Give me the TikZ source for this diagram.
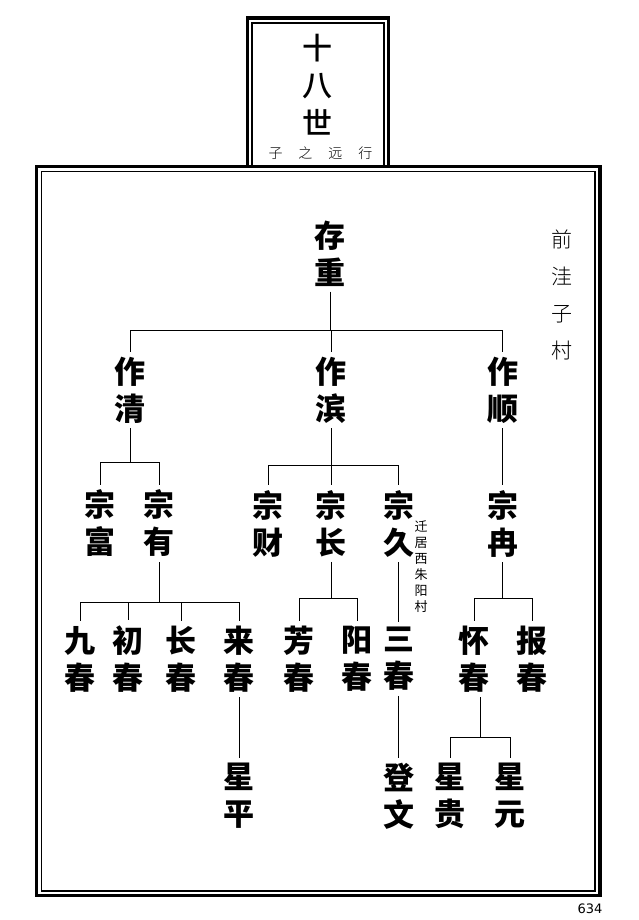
\documentclass[tikz,border=0pt]{standalone}
\usepackage{fontspec}
\newfontfamily\cjk{Noto Sans CJK SC}
\newfontfamily\cjkl{Noto Sans CJK SC}[UprightFont=* Light]
\newfontfamily\cjkm{Noto Sans CJK SC}[UprightFont=* Medium]
\newfontfamily\pagefont{DejaVu Sans}
\begin{document}
\begin{tikzpicture}[x=1pt,y=-1pt,
  nm/.style={font=\cjk\bfseries\fontsize{31}{37}\selectfont, align=center, inner sep=5pt},
  conn/.style={line width=0.9pt},
  thickframe/.style={line width=3.5pt},
  thinframe/.style={line width=1.2pt}]
\path[use as bounding box, fill=white] (0,0) rectangle (638,920);
% frames
\draw[thickframe] (36.7,166.3) rectangle (600,895.7);
\draw[thinframe] (41.7,171.7) rectangle (595,891);
\draw[thickframe] (247.5,166.3) -- (247.5,18) -- (388.7,18) -- (388.7,166.3);
\draw[thinframe] (252,166.3) -- (252,23) -- (384,23) -- (384,166.3);
% texts
\node[font=\cjkm\fontsize{30}{37.5}\selectfont, align=center, inner sep=0] (title) at (317,84.5) {十\\八\\世};
\node[font=\cjkl\fontsize{14}{14}\selectfont, inner sep=0] (sub) at (320.5,153) {子\hspace{16pt}之\hspace{16pt}远\hspace{16pt}行};
\node[font=\cjkl\fontsize{21}{36.7}\selectfont, align=center, inner sep=0] (place) at (562,295) {前\\洼\\子\\村};
\node[font=\cjk\fontsize{13}{16}\selectfont, align=center, inner sep=0] (note) at (421,567) {迁\\居\\西\\朱\\阳\\村};
\node[font=\pagefont\fontsize{13}{13}\selectfont, inner sep=0] (pg) at (590,909) {634};
% names
\node[nm] (r) at (330,253.5) {存\\重};
\node[nm] (a1) at (130,390) {作\\清};
\node[nm] (a2) at (331,390) {作\\滨};
\node[nm] (a3) at (502.5,390) {作\\顺};
\node[nm] (b1) at (100,523.5) {宗\\富};
\node[nm] (b2) at (159,523.5) {宗\\有};
\node[nm] (b3) at (268,523.5) {宗\\财};
\node[nm] (b4) at (331,523.5) {宗\\长};
\node[nm] (b5) at (398.5,523.5) {宗\\久};
\node[nm] (b6) at (502.5,523.5) {宗\\冉};
\node[nm] (c1) at (80,659) {九\\春};
\node[nm] (c2) at (128,659) {初\\春};
\node[nm] (c3) at (181,659) {长\\春};
\node[nm] (c4) at (239,659) {来\\春};
\node[nm] (c5) at (299,659) {芳\\春};
\node[nm] (c6) at (357,659) {阳\\春};
\node[nm] (c7) at (398.5,659) {三\\春};
\node[nm] (c8) at (474,659) {怀\\春};
\node[nm] (c9) at (532,659) {报\\春};
\node[nm] (d1) at (239,796) {星\\平};
\node[nm] (d2) at (398.5,796) {登\\文};
\node[nm] (d3) at (450,796) {星\\贵};
\node[nm] (d4) at (510,796) {星\\元};
% connectors
\coordinate (y0) at (0,330);
\draw[conn] (r.south) -- (r.south |- y0);
\draw[conn] (a1.north |- y0) -- (a3.north |- y0);
\foreach \n in {a1,a2,a3} \draw[conn] (\n.north |- y0) -- (\n.north);
\coordinate (y1) at (0,462);
\draw[conn] (a1.south) -- (a1.south |- y1);
\draw[conn] (b1.north |- y1) -- (b2.north |- y1);
\foreach \n in {b1,b2} \draw[conn] (\n.north |- y1) -- (\n.north);
\coordinate (y2) at (0,465);
\draw[conn] (a2.south) -- (a2.south |- y2);
\draw[conn] (b3.north |- y2) -- (b5.north |- y2);
\foreach \n in {b3,b4,b5} \draw[conn] (\n.north |- y2) -- (\n.north);
\draw[conn] (a3.south) -- (b6.north);
\coordinate (y3) at (0,602);
\draw[conn] (b2.south) -- (b2.south |- y3);
\draw[conn] (c1.north |- y3) -- (c4.north |- y3);
\foreach \n in {c1,c2,c3,c4} \draw[conn] (\n.north |- y3) -- (\n.north);
\coordinate (y4) at (0,598);
\draw[conn] (b4.south) -- (b4.south |- y4);
\draw[conn] (c5.north |- y4) -- (c6.north |- y4);
\foreach \n in {c5,c6} \draw[conn] (\n.north |- y4) -- (\n.north);
\draw[conn] (b5.south) -- (c7.north);
\draw[conn] (b6.south) -- (b6.south |- y4);
\draw[conn] (c8.north |- y4) -- (c9.north |- y4);
\foreach \n in {c8,c9} \draw[conn] (\n.north |- y4) -- (\n.north);
\draw[conn] (c4.south) -- (d1.north);
\draw[conn] (c7.south) -- (d2.north);
\coordinate (hb) at (480,737);
\draw[conn] (c8.south -| hb) -- (hb);
\draw[conn] (d3.north |- hb) -- (d4.north |- hb);
\foreach \n in {d3,d4} \draw[conn] (\n.north |- hb) -- (\n.north);
\end{tikzpicture}
\end{document}
